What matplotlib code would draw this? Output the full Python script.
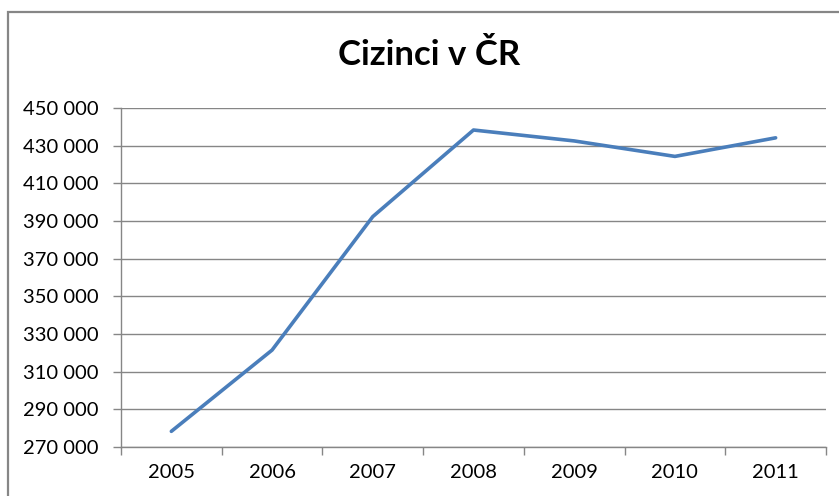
import matplotlib.pyplot as plt
from matplotlib.patches import Rectangle
from matplotlib.ticker import FuncFormatter

years = ['2005', '2006', '2007', '2008', '2009', '2010', '2011']
foreigners = [278312, 321456, 392315, 438301, 432503, 424291, 434153]

plt.rcParams['font.family'] = ['Lato', 'DejaVu Sans']

fig = plt.figure(figsize=(8.39, 4.96), dpi=100)
ax = fig.add_axes([0.1442, 0.0988, 0.8403, 0.6835])

# outer chart frame (cut off at right and bottom like the reference)
fig.patches.append(Rectangle((8 / 839, -0.1), 1.1, 0.1 + (496 - 12) / 496,
                             transform=fig.transFigure, fill=False,
                             edgecolor='#868686', linewidth=1.6))

x = list(range(len(years)))
ax.plot(x, foreigners, color='#4A7EBB', linewidth=2.6, solid_capstyle='round')

ax.set_xlim(-0.5, len(years) - 0.5)
ax.set_ylim(270000, 450000)
ax.set_yticks(range(270000, 450001, 20000))
ax.yaxis.set_major_formatter(FuncFormatter(lambda v, p: f'{int(v):,}'.replace(',', ' ')))
ax.set_xticks(x)
ax.set_xticklabels(years)
ax.set_xticks([i - 0.5 for i in range(len(years) + 1)], minor=True)
ax.tick_params(axis='x', which='major', length=0, pad=12, labelsize=14.5)
ax.tick_params(axis='x', which='minor', length=6, color='#868686', width=1)
ax.tick_params(axis='y', length=6, color='#868686', width=1, labelsize=14.5, pad=10)

ax.grid(axis='y', color='#868686', linewidth=1)
ax.set_axisbelow(True)
for s in ['top', 'right']:
    ax.spines[s].set_visible(False)
for s in ['left', 'bottom']:
    ax.spines[s].set_color('#868686')
    ax.spines[s].set_linewidth(1)

fig.text(0.512, 1 - 65 / 496, 'Cizinci v ČR', ha='center', va='baseline', fontsize=25, fontweight='bold')

fig.savefig('out.png', dpi=100)
